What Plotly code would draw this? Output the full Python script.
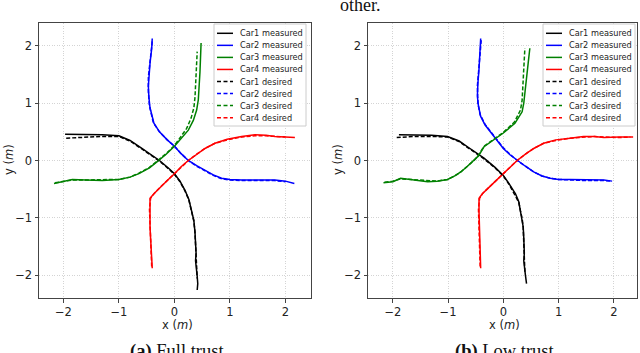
import plotly.graph_objects as go

W, H = 640, 353

# ---------------- data: (a) Full trust ----------------
a_car1_meas_x = [-1.97, -1.6, -1.3, -1.0, -0.8, -0.6, -0.4, -0.27, -0.1, 0.0, 0.1, 0.19, 0.26, 0.31, 0.35, 0.37, 0.38, 0.39, 0.38, 0.40, 0.41, 0.42, 0.41]
a_car1_meas_y = [0.46, 0.46, 0.45, 0.43, 0.35, 0.22, 0.09, 0.0, -0.14, -0.23, -0.36, -0.52, -0.68, -0.87, -1.05, -1.25, -1.45, -1.62, -1.75, -1.88, -2.02, -2.15, -2.26]
a_car1_des_x = [-1.95, -1.6, -1.3, -1.0, -0.8, -0.6, -0.4, -0.27, -0.1, 0.0, 0.1, 0.19, 0.26, 0.31, 0.35, 0.37, 0.38, 0.39, 0.40, 0.41]
a_car1_des_y = [0.39, 0.41, 0.42, 0.42, 0.34, 0.21, 0.08, -0.01, -0.15, -0.24, -0.37, -0.53, -0.69, -0.88, -1.06, -1.26, -1.46, -1.66, -1.86, -2.06]

a_car2_meas_x = [-0.40, -0.41, -0.44, -0.46, -0.47, -0.46, -0.44, -0.37, -0.27, -0.13, 0.0, 0.12, 0.25, 0.40, 0.55, 0.70, 0.85, 1.0, 1.21, 1.5, 1.81, 2.0, 2.16]
a_car2_meas_y = [2.13, 1.95, 1.7, 1.5, 1.3, 1.1, 0.92, 0.65, 0.5, 0.36, 0.25, 0.12, 0.0, -0.09, -0.17, -0.25, -0.31, -0.33, -0.34, -0.34, -0.34, -0.36, -0.40]
a_car2_des_x = [-0.40, -0.42, -0.45, -0.47, -0.47, -0.45, -0.38, -0.27, -0.13, 0.0, 0.12, 0.25, 0.40, 0.55, 0.70, 0.85, 1.0, 1.21, 1.5, 1.8, 2.0]
a_car2_des_y = [2.08, 1.9, 1.65, 1.45, 1.2, 0.95, 0.66, 0.5, 0.36, 0.25, 0.12, 0.0, -0.1, -0.18, -0.26, -0.32, -0.34, -0.35, -0.35, -0.35, -0.37]

a_car3_meas_x = [-2.17, -2.0, -1.84, -1.6, -1.3, -1.0, -0.8, -0.64, -0.45, -0.31, -0.15, 0.0, 0.12, 0.25, 0.34, 0.40, 0.43, 0.45, 0.46, 0.47, 0.48]
a_car3_meas_y = [-0.40, -0.37, -0.33, -0.34, -0.35, -0.33, -0.29, -0.23, -0.13, -0.02, 0.11, 0.25, 0.38, 0.53, 0.70, 0.88, 1.06, 1.3, 1.55, 1.8, 2.05]
a_car3_des_x = [-2.15, -2.0, -1.84, -1.6, -1.3, -1.0, -0.8, -0.64, -0.45, -0.31, -0.15, 0.0, 0.11, 0.22, 0.30, 0.35, 0.37, 0.38, 0.39, 0.40, 0.41]
a_car3_des_y = [-0.39, -0.36, -0.34, -0.34, -0.34, -0.33, -0.29, -0.22, -0.12, -0.01, 0.12, 0.26, 0.40, 0.56, 0.74, 0.92, 1.1, 1.3, 1.5, 1.7, 1.9]

a_car4_meas_x = [-0.40, -0.41, -0.43, -0.44, -0.44, -0.44, -0.37, -0.25, -0.12, 0.0, 0.12, 0.25, 0.40, 0.55, 0.73, 0.95, 1.21, 1.45, 1.65, 1.81, 2.0, 2.17]
a_car4_meas_y = [-1.88, -1.6, -1.35, -1.16, -0.9, -0.66, -0.58, -0.46, -0.34, -0.23, -0.11, 0.0, 0.11, 0.21, 0.30, 0.37, 0.42, 0.45, 0.44, 0.42, 0.41, 0.40]
a_car4_des_x = [-0.41, -0.42, -0.44, -0.45, -0.45, -0.43, -0.36, -0.25, -0.12, 0.0, 0.12, 0.25, 0.40, 0.55, 0.73, 0.95, 1.21, 1.45, 1.65, 1.8, 2.0]
a_car4_des_y = [-1.85, -1.6, -1.35, -1.1, -0.85, -0.66, -0.57, -0.46, -0.34, -0.23, -0.11, 0.0, 0.11, 0.21, 0.30, 0.36, 0.41, 0.43, 0.43, 0.42, 0.41]

# ---------------- data: (b) Low trust ----------------
b_car1_meas_x = [-1.89, -1.6, -1.3, -1.01, -0.8, -0.65, -0.5, -0.35, -0.15, 0.0, 0.1, 0.22, 0.28, 0.31, 0.34, 0.36, 0.37, 0.38, 0.38, 0.37, 0.38, 0.40, 0.42]
b_car1_meas_y = [0.45, 0.45, 0.44, 0.42, 0.34, 0.24, 0.14, 0.04, -0.12, -0.26, -0.4, -0.58, -0.72, -0.87, -1.0, -1.16, -1.35, -1.5, -1.62, -1.75, -1.86, -2.0, -2.15]
b_car1_des_x = [-1.93, -1.6, -1.3, -1.01, -0.8, -0.65, -0.5, -0.35, -0.15, 0.0, 0.1, 0.21, 0.28, 0.31, 0.34, 0.36, 0.37, 0.37, 0.38, 0.39]
b_car1_des_y = [0.40, 0.42, 0.42, 0.41, 0.33, 0.23, 0.13, 0.03, -0.13, -0.27, -0.41, -0.59, -0.73, -0.88, -1.01, -1.17, -1.36, -1.55, -1.75, -1.95]

b_car2_meas_x = [-0.41, -0.42, -0.44, -0.46, -0.47, -0.45, -0.41, -0.33, -0.22, -0.1, 0.0, 0.12, 0.25, 0.40, 0.55, 0.70, 0.85, 1.0, 1.21, 1.5, 1.82, 1.97]
b_car2_meas_y = [2.13, 1.9, 1.6, 1.35, 1.12, 0.95, 0.77, 0.62, 0.48, 0.34, 0.21, 0.1, 0.0, -0.1, -0.2, -0.27, -0.31, -0.33, -0.33, -0.34, -0.34, -0.36]
b_car2_des_x = [-0.40, -0.42, -0.45, -0.47, -0.46, -0.42, -0.33, -0.22, -0.1, 0.0, 0.12, 0.25, 0.40, 0.55, 0.70, 0.85, 1.0, 1.21, 1.5, 1.82, 1.95]
b_car2_des_y = [2.1, 1.85, 1.55, 1.3, 1.0, 0.8, 0.63, 0.49, 0.35, 0.22, 0.11, 0.0, -0.1, -0.2, -0.27, -0.31, -0.33, -0.34, -0.35, -0.35, -0.36]

b_car3_meas_x = [-2.17, -2.0, -1.86, -1.6, -1.37, -1.2, -1.01, -0.88, -0.77, -0.65, -0.53, -0.45, -0.35, -0.2, 0.0, 0.21, 0.34, 0.37, 0.39, 0.42, 0.45, 0.48]
b_car3_meas_y = [-0.39, -0.37, -0.31, -0.34, -0.37, -0.36, -0.33, -0.27, -0.2, -0.1, 0.0, 0.08, 0.24, 0.34, 0.48, 0.65, 0.85, 1.0, 1.2, 1.47, 1.7, 1.96]
b_car3_des_x = [-2.15, -2.0, -1.86, -1.6, -1.37, -1.2, -1.01, -0.88, -0.77, -0.65, -0.53, -0.45, -0.35, -0.2, 0.0, 0.2, 0.31, 0.34, 0.35, 0.37, 0.39]
b_car3_des_y = [-0.38, -0.36, -0.32, -0.34, -0.36, -0.36, -0.33, -0.27, -0.2, -0.1, 0.0, 0.09, 0.25, 0.35, 0.49, 0.67, 0.88, 1.05, 1.3, 1.6, 1.96]

b_car4_meas_x = [-0.41, -0.42, -0.43, -0.44, -0.44, -0.44, -0.38, -0.25, -0.12, 0.0, 0.12, 0.25, 0.40, 0.55, 0.73, 0.95, 1.21, 1.45, 1.65, 1.82, 2.1, 2.35]
b_car4_meas_y = [-1.88, -1.6, -1.35, -1.16, -0.9, -0.66, -0.58, -0.46, -0.34, -0.23, -0.11, 0.0, 0.11, 0.21, 0.30, 0.36, 0.39, 0.42, 0.42, 0.40, 0.41, 0.41]
b_car4_des_x = [-0.42, -0.43, -0.44, -0.45, -0.45, -0.43, -0.37, -0.25, -0.12, 0.0, 0.12, 0.25, 0.40, 0.55, 0.73, 0.95, 1.21, 1.45, 1.65, 1.82, 2.1, 2.3]
b_car4_des_y = [-1.85, -1.6, -1.35, -1.1, -0.85, -0.66, -0.57, -0.46, -0.34, -0.23, -0.11, 0.0, 0.11, 0.21, 0.30, 0.35, 0.39, 0.41, 0.42, 0.41, 0.40, 0.41]

tick_vals = [-2, -1, 0, 1, 2]
tick_text = ["\u22122", "\u22121", "0", "1", "2"]
legend_names = ["Car1 measured", "Car2 measured", "Car3 measured", "Car4 measured",
                "Car1 desired", "Car2 desired", "Car3 desired", "Car4 desired"]
car_colors = ["#000000", "#0000ff", "#008000", "#ff0000"]
captions = ["<b>(a)</b> Full trust", "<b>(b)</b> Low trust"]

panels = [
    [(a_car1_meas_x, a_car1_meas_y, a_car1_des_x, a_car1_des_y),
     (a_car2_meas_x, a_car2_meas_y, a_car2_des_x, a_car2_des_y),
     (a_car3_meas_x, a_car3_meas_y, a_car3_des_x, a_car3_des_y),
     (a_car4_meas_x, a_car4_meas_y, a_car4_des_x, a_car4_des_y)],
    [(b_car1_meas_x, b_car1_meas_y, b_car1_des_x, b_car1_des_y),
     (b_car2_meas_x, b_car2_meas_y, b_car2_des_x, b_car2_des_y),
     (b_car3_meas_x, b_car3_meas_y, b_car3_des_x, b_car3_des_y),
     (b_car4_meas_x, b_car4_meas_y, b_car4_des_x, b_car4_des_y)],
]

def px(x):
    return x / W

def py(y):
    return 1 - y / H

# plot-area boxes in pixels: (left, right, top, bottom)
boxes = [(39, 311, 23, 298), (368, 637, 23, 298)]
xranges = [[-2.44, 2.46], [-2.45, 2.42]]
yrange = [-2.4, 2.4]

fig = go.Figure()
for p, cars in enumerate(panels):
    xa = "x" if p == 0 else "x2"
    ya = "y" if p == 0 else "y2"
    for c, (mx, my, dx, dy) in enumerate(cars):
        fig.add_trace(go.Scatter(x=mx, y=my, mode="lines", xaxis=xa, yaxis=ya,
                                 line=dict(color=car_colors[c], width=1.5),
                                 showlegend=False, hoverinfo="skip"))
    for c, (mx, my, dx, dy) in enumerate(cars):
        fig.add_trace(go.Scatter(x=dx, y=dy, mode="lines", xaxis=xa, yaxis=ya,
                                 line=dict(color=car_colors[c], width=1.5, dash="4px,2px"),
                                 showlegend=False, hoverinfo="skip"))

axis_common = dict(
    showline=True, linecolor="#444", linewidth=1, mirror=True,
    ticks="outside", ticklen=3.5, tickwidth=1, tickcolor="#444",
    tickvals=tick_vals, ticktext=tick_text,
    tickfont=dict(family="DejaVu Sans", size=11.5, color="#222"),
    showgrid=True, gridcolor="#d4d4d4", gridwidth=0.8, griddash="1px,1.5px",
    zeroline=False,
)

layout = dict(
    width=W, height=H, margin=dict(l=0, r=0, t=0, b=0),
    plot_bgcolor="white", paper_bgcolor="white", showlegend=False,
)
for p, (l, r, t, b) in enumerate(boxes):
    sx = "" if p == 0 else "2"
    layout["xaxis" + sx] = dict(axis_common, domain=[px(l), px(r)], range=xranges[p],
                                anchor="y" + sx)
    layout["yaxis" + sx] = dict(axis_common, domain=[py(b), py(t)], range=yrange,
                                anchor="x" + sx)
fig.update_layout(**layout)

shapes = []
annotations = []
legend_boxes = [(214, 306), (543, 635)]
for p, (l, r, t, b) in enumerate(boxes):
    lb_l, lb_r = legend_boxes[p]
    shapes.append(dict(type="rect", xref="paper", yref="paper",
                       x0=px(lb_l), x1=px(lb_r), y0=py(126), y1=py(24),
                       line=dict(color="#cccccc", width=1), fillcolor="rgba(255,255,255,0.85)",
                       layer="above"))
    for i, name in enumerate(legend_names):
        yc = 33.3 + 12.05 * i
        col = car_colors[i % 4]
        dash = "solid" if i < 4 else "4px,2.5px"
        shapes.append(dict(type="line", xref="paper", yref="paper",
                           x0=px(lb_l + 3), x1=px(lb_l + 19), y0=py(yc), y1=py(yc),
                           line=dict(color=col, width=1.5, dash=dash), layer="above"))
        annotations.append(dict(text=name, xref="paper", yref="paper",
                                x=px(lb_l + 24), y=py(yc), xanchor="left", yanchor="middle",
                                showarrow=False,
                                font=dict(family="DejaVu Sans", size=8.2, color="#222")))
    cx = (l + r) / 2 + 2
    annotations.append(dict(text="x (<i>m</i>)", xref="paper", yref="paper",
                            x=px(cx), y=py(325), xanchor="center", yanchor="middle",
                            showarrow=False,
                            font=dict(family="DejaVu Sans", size=11.5, color="#222")))
    annotations.append(dict(text="y (<i>m</i>)", xref="paper", yref="paper",
                            x=px(l - 30), y=py(160), xanchor="center", yanchor="middle",
                            textangle=-90, showarrow=False,
                            font=dict(family="DejaVu Sans", size=11.5, color="#222")))
    annotations.append(dict(text=captions[p], xref="paper", yref="paper",
                            x=px(cx), y=py(351), xanchor="center", yanchor="middle",
                            showarrow=False,
                            font=dict(family="Liberation Serif", size=18.5, color="#111")))

annotations.append(dict(text="other.", xref="paper", yref="paper",
                        x=px(338), y=py(5), xanchor="left", yanchor="middle",
                        showarrow=False,
                        font=dict(family="Liberation Serif", size=18, color="#111")))

fig.update_layout(shapes=shapes, annotations=annotations)
fig.write_html("out.html", config={"displayModeBar": False},
               post_script="document.body.style.margin='0';document.body.style.overflow='hidden';")
